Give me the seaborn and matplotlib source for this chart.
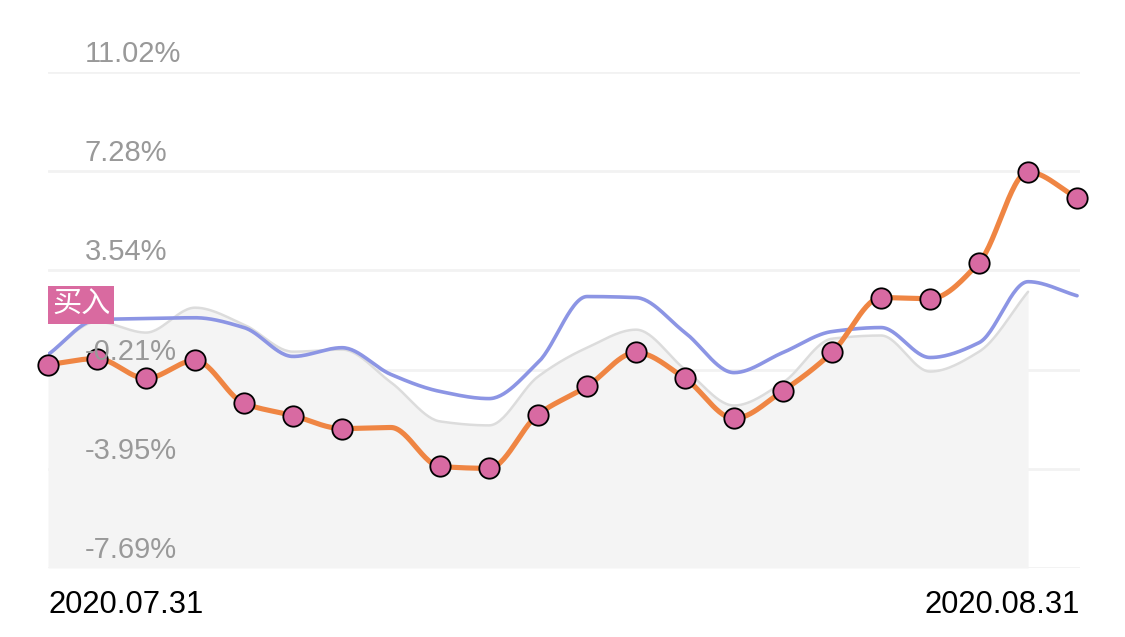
import numpy as np
import pandas as pd
import matplotlib
matplotlib.use("Agg")
import matplotlib.pyplot as plt
from matplotlib.transforms import offset_copy
import seaborn as sns

# ---------------- data ----------------
y_ticks = [11.02, 7.28, 3.54, -0.21, -3.95, -7.69]
y_tick_labels = ["11.02%", "7.28%", "3.54%", "-0.21%", "-3.95%", "-7.69%"]
x_labels = ["2020.07.31", "2020.08.31"]

strategy = [-0.02, 0.21, -0.54, 0.14, -1.48, -1.94, -2.43, -2.39, -3.86, -3.93, -1.90,
            -0.84, 0.44, -0.54, -2.05, -1.00, 0.44, 2.51, 2.47, 3.83, 7.25, 6.27]
benchmark = [0.36, 1.68, 1.72, 1.75, 1.38, 0.29, 0.62, -0.39, -1.03, -1.30, 0.06,
             2.55, 2.51, 1.19, -0.32, 0.44, 1.23, 1.38, 0.25, 0.81, 3.11, 2.58]
reference = [0.36, 1.60, 1.19, 2.13, 1.49, 0.47, 0.55, -0.69, -2.16, -2.31, -0.47,
             0.62, 1.30, -0.20, -1.56, -0.69, 0.96, 1.08, -0.28, 0.47, 2.73]
marker_days = [0, 1, 2, 3, 4, 5, 6, 8, 9, 10, 11, 12, 13, 14, 15, 16, 17, 18, 19, 20, 21]
buy_label = "买入"
buy_level = 2.24


def pchip(y, n=30):
    y = np.asarray(y, float)
    x = np.arange(len(y), dtype=float)
    h = np.diff(x)
    d = np.diff(y) / h
    m = np.zeros_like(y)
    for k in range(1, len(y) - 1):
        if d[k - 1] * d[k] <= 0:
            m[k] = 0.0
        else:
            w1 = 2 * h[k] + h[k - 1]
            w2 = h[k] + 2 * h[k - 1]
            m[k] = (w1 + w2) / (w1 / d[k - 1] + w2 / d[k])
    m[0] = d[0]
    m[-1] = d[-1]
    xs, ys = [], []
    for k in range(len(y) - 1):
        t = np.linspace(0, 1, n, endpoint=(k == len(y) - 2))
        h00 = 2 * t**3 - 3 * t**2 + 1
        h10 = t**3 - 2 * t**2 + t
        h01 = -2 * t**3 + 3 * t**2
        h11 = t**3 - t**2
        xs.append(x[k] + t * h[k])
        ys.append(h00 * y[k] + h10 * h[k] * m[k] + h01 * y[k + 1] + h11 * h[k] * m[k + 1])
    return np.concatenate(xs), np.concatenate(ys)


sns.set_theme(style="white")
plt.rcParams["font.family"] = ["Liberation Sans", "Noto Sans CJK SC", "DejaVu Sans"]

fig = plt.figure(figsize=(11.25, 6.37), dpi=100)
ax = fig.add_axes([48 / 1125, 69 / 637, 1032 / 1125, 496 / 637])

ymin, ymax = -7.69, 11.02
ax.set_xlim(0, 21.06)
ax.set_ylim(ymin, ymax)

# gridlines
for yt in y_ticks:
    ax.axhline(yt, color="#f2f2f2", lw=2, zorder=0.5)

# reference area
rx, ry = pchip(reference)
ax.fill_between(rx, ry, ymin, color="#f4f4f4", lw=0, zorder=1)
df_ref = pd.DataFrame({"x": rx, "y": ry})
sns.lineplot(data=df_ref, x="x", y="y", ax=ax, color="#dcdcdc", lw=1.8, zorder=2, sort=False)

bx, by = pchip(benchmark)
df_b = pd.DataFrame({"x": bx, "y": by})
sns.lineplot(data=df_b, x="x", y="y", ax=ax, color="#8c95e4", lw=2.6, zorder=3, sort=False)

sx, sy = pchip(strategy)
df_s = pd.DataFrame({"x": sx, "y": sy})
sns.lineplot(data=df_s, x="x", y="y", ax=ax, color="#ef8543", lw=3.7, zorder=4, sort=False)

df_m = pd.DataFrame({"x": marker_days, "y": [strategy[i] for i in marker_days]})
sns.scatterplot(data=df_m, x="x", y="y", ax=ax, s=215, color="#d86aa2",
                edgecolor="black", linewidth=1.3, zorder=5, clip_on=False)

# y tick labels inside the plot, above gridlines
for yt, lab in zip(y_ticks, y_tick_labels):
    tr = offset_copy(ax.get_yaxis_transform(), fig=fig, x=0, y=10 * 72 / 100, units="points")
    ax.text(37 / 1032, yt, lab, transform=tr, ha="left", va="baseline",
            fontsize=21, color="#999999", zorder=6)

# buy tag
tr_tag = offset_copy(ax.transData, fig=fig, x=4 * 72 / 100, y=0, units="points")
ax.text(0.0, buy_level, buy_label, transform=tr_tag, ha="left", va="center", fontsize=21,
        color="white", family=["Noto Sans CJK SC", "DejaVu Sans"], zorder=7,
        bbox=dict(boxstyle="square,pad=0.13", fc="#d96aa0", ec="none"))

# x labels
ax.text(0.0, -0.045, x_labels[0], transform=ax.transAxes, ha="left", va="top",
        fontsize=22.3, color="black")
ax.text(1.0, -0.045, x_labels[1], transform=ax.transAxes, ha="right", va="top",
        fontsize=22.3, color="black")

ax.set_xticks([])
ax.set_yticks([])
ax.set_xlabel("")
ax.set_ylabel("")
for sp in ax.spines.values():
    sp.set_visible(False)
ax.legend_ = None

fig.savefig("out.png", dpi=100, facecolor="white")
